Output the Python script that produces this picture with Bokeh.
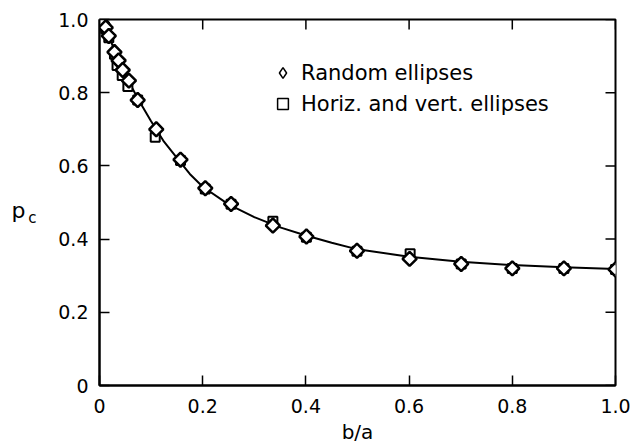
import math
from bokeh.plotting import figure
from bokeh.models import Range1d, LinearAxis, FixedTicker, Legend, LegendItem, ColumnDataSource
from bokeh.embed import file_html
from bokeh.resources import INLINE

# ---- data ----
x_ticks = [0, 0.2, 0.4, 0.6, 0.8, 1.0]
x_tick_labels = ["0", "0.2", "0.4", "0.6", "0.8", "1.0"]
y_ticks = [0, 0.2, 0.4, 0.6, 0.8, 1.0]
y_tick_labels = ["0", "0.2", "0.4", "0.6", "0.8", "1.0"]

random_x = [0.005, 0.012, 0.018, 0.029, 0.037, 0.045, 0.057, 0.074, 0.11, 0.157,
            0.205, 0.255, 0.336, 0.401, 0.499, 0.601, 0.701, 0.80, 0.90, 1.0]
random_y = [0.99, 0.978, 0.955, 0.911, 0.888, 0.862, 0.833, 0.78, 0.70, 0.617,
            0.539, 0.496, 0.437, 0.407, 0.368, 0.346, 0.332, 0.32, 0.32, 0.317]

hv_x = [0.005, 0.012, 0.018, 0.029, 0.034, 0.044, 0.055, 0.074, 0.108, 0.157,
        0.205, 0.255, 0.336, 0.401, 0.499, 0.602, 0.701, 0.80, 0.90, 1.0]
hv_y = [0.99, 0.975, 0.95, 0.905, 0.874, 0.847, 0.817, 0.78, 0.678, 0.615,
        0.537, 0.495, 0.449, 0.405, 0.367, 0.36, 0.332, 0.32, 0.32, 0.317]

curve_x = [0.0, 0.01, 0.02, 0.03, 0.04, 0.05, 0.06, 0.075, 0.1, 0.125, 0.15, 0.175,
           0.2, 0.25, 0.3, 0.35, 0.4, 0.45, 0.5, 0.6, 0.7, 0.8, 0.9, 1.0]
curve_y = [1.0, 0.975, 0.948, 0.912, 0.878, 0.848, 0.822, 0.782, 0.722, 0.666, 0.622, 0.578,
           0.543, 0.495, 0.46, 0.432, 0.41, 0.39, 0.372, 0.352, 0.338, 0.329, 0.323, 0.318]

legend_labels = ["Random ellipses", "Horiz. and vert. ellipses"]
x_title = "b/a"
y_title_main = "p"
y_title_sub = "c"

FONT = "DejaVu Sans"
W, H = 633, 447
BL, BR, BT, BB = 99, 18, 19, 62
TICK = 10

p = figure(width=W, height=H, output_backend="svg", toolbar_location=None,
           x_range=Range1d(0, 1), y_range=Range1d(0, 1),
           min_border_left=BL, min_border_right=BR, min_border_top=BT, min_border_bottom=BB)
p.background_fill_color = "white"
p.border_fill_color = "white"
p.grid.visible = False
p.outline_line_color = "black"
p.outline_line_width = 2


def style_axis(ax, ticks, labels):
    ax.ticker = FixedTicker(ticks=ticks)
    ax.major_label_overrides = {t: l for t, l in zip(ticks, labels)}
    ax.axis_line_color = "black"
    ax.axis_line_width = 2
    ax.major_tick_line_color = "black"
    ax.major_tick_line_width = 1.5
    ax.major_tick_in = TICK
    ax.major_tick_out = 0
    ax.minor_tick_line_color = None
    ax.major_label_text_font = FONT
    ax.major_label_text_font_size = "19px"
    ax.major_label_text_color = "black"


style_axis(p.xaxis[0], x_ticks, x_tick_labels)
style_axis(p.yaxis[0], y_ticks, y_tick_labels)
p.xaxis[0].major_label_standoff = 13
p.yaxis[0].major_label_standoff = 11

xa = p.xaxis[0]
xa.axis_label = x_title
xa.axis_label_text_font = FONT
xa.axis_label_text_font_size = "20px"
xa.axis_label_text_font_style = "normal"
xa.axis_label_text_color = "black"
xa.axis_label_standoff = 4


def label_axis(text, size, standoff, line_height):
    ax = LinearAxis(ticker=FixedTicker(ticks=[]))
    ax.axis_line_color = None
    ax.major_tick_in = 0
    ax.major_tick_out = 0
    ax.minor_tick_line_color = None
    ax.major_label_standoff = 0
    ax.axis_label = text
    ax.axis_label_orientation = "horizontal"
    ax.axis_label_standoff = standoff
    ax.axis_label_text_font = FONT
    ax.axis_label_text_font_size = size
    ax.axis_label_text_font_style = "normal"
    ax.axis_label_text_color = "black"
    ax.axis_label_text_line_height = line_height
    return ax


p.add_layout(label_axis("\n\n" + y_title_sub, "15px", 19, 0.85), "left")
p.add_layout(label_axis("\n" + y_title_main, "22px", 0, 0.6), "left")

# inward ticks on the top and right edges, at the tick values
n = len(x_ticks)
tick_dy = TICK / (H - BT - BB) * (p.y_range.end - p.y_range.start)
tick_dx = TICK / (W - BL - BR) * (p.x_range.end - p.x_range.start)
p.segment(x0=x_ticks, y0=[p.y_range.end] * n, x1=x_ticks, y1=[p.y_range.end - tick_dy] * n,
          line_color="black", line_width=1.5)
p.segment(x0=[p.x_range.end] * len(y_ticks), y0=y_ticks,
          x1=[p.x_range.end - tick_dx] * len(y_ticks), y1=y_ticks,
          line_color="black", line_width=1.5)

# curve
p.line(curve_x, curve_y, line_color="black", line_width=2)

# data markers
p.scatter(hv_x, hv_y, marker="square", size=9, fill_color="white",
          line_color="black", line_width=2)
p.scatter(random_x, random_y, marker="square", angle=math.pi / 4, size=10,
          fill_color="white", line_color="black", line_width=2.5)

# legend-only renderers (no visible data)
nan_src1 = ColumnDataSource(data=dict(x=[float("nan")], y=[float("nan")]))
nan_src2 = ColumnDataSource(data=dict(x=[float("nan")], y=[float("nan")]))
leg_d = p.scatter("x", "y", source=nan_src1, marker="diamond",
                  fill_color="white", line_color="black", line_width=1.5)
leg_s = p.scatter("x", "y", source=nan_src2, marker="square",
                  fill_color="white", line_color="black", line_width=1.5)

legend = Legend(items=[LegendItem(label=legend_labels[0], renderers=[leg_d]),
                       LegendItem(label=legend_labels[1], renderers=[leg_s])],
                location=(170, 268), orientation="vertical",
                glyph_width=27, glyph_height=27, label_height=22, spacing=4,
                label_standoff=5, padding=0, margin=0,
                border_line_color=None, background_fill_alpha=0,
                label_text_font=FONT, label_text_font_size="21px", label_text_color="black")
p.add_layout(legend, "center")

open("out.html", "w").write(file_html(p, INLINE))
